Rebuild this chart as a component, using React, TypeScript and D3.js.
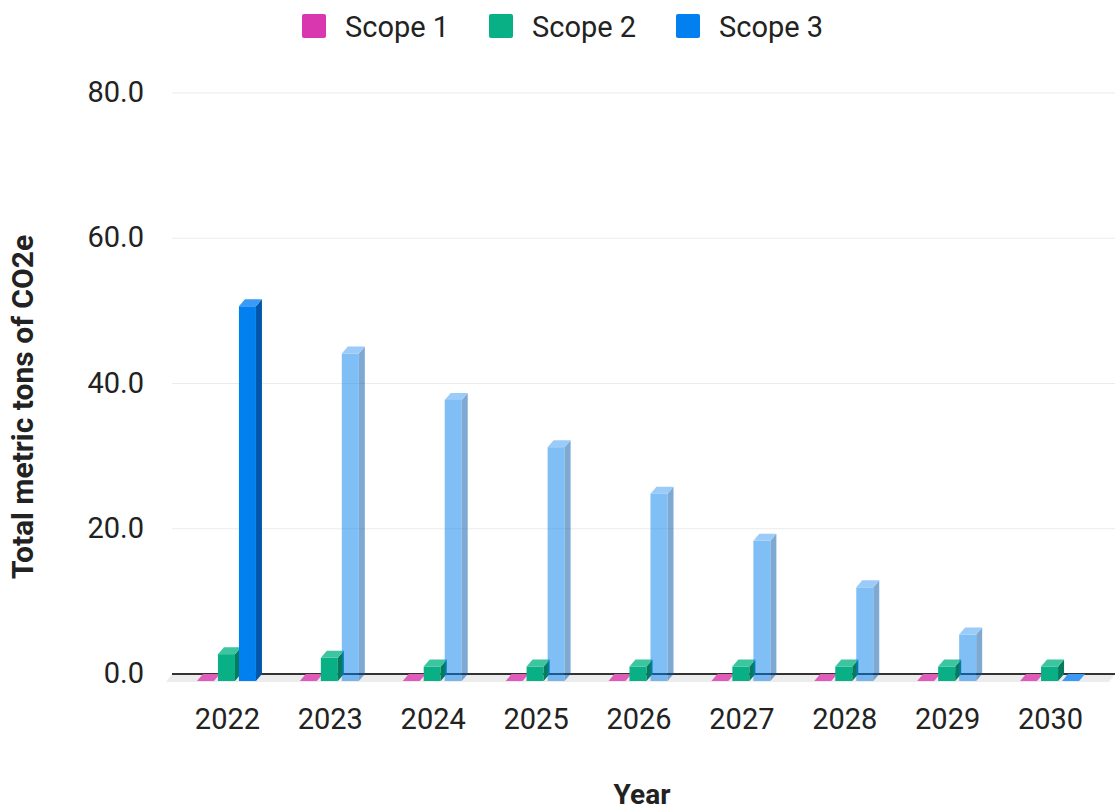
import * as d3 from 'd3'

const years = ['2022', '2023', '2024', '2025', '2026', '2027', '2028', '2029', '2030']
const series = ['Scope 1', 'Scope 2', 'Scope 3']
const scope1 = [0, 0, 0, 0, 0, 0, 0, 0, 0]
const scope2 = [3.7, 3.2, 2.0, 2.0, 2.0, 2.0, 2.0, 2.0, 2.0]
const scope3 = [51.6, 45.1, 38.7, 32.2, 25.8, 19.3, 12.9, 6.4, 0]
// later years are projections, drawn see-through
const projected = [false, true, true, true, true, true, true, true, false]
const yTicks = [0, 20, 40, 60, 80]

const colors = {
  'Scope 1': { front: '#d837b0', top: '#e05cba', side: '#9a2780' },
  'Scope 2': { front: '#09b085', top: '#3cc59f', side: '#067a5c' },
  'Scope 3': { front: '#0380ef', top: '#3a9af5', side: '#0056a8' },
}

const W = 1115
const H = 810
const DX = 6
const DY = 7
const FONT = 'Roboto, "Open Sans", sans-serif'

export default function App() {
  const values: Record<string, number[]> = { 'Scope 1': scope1, 'Scope 2': scope2, 'Scope 3': scope3 }

  const y = d3.scaleLinear().domain([0, 80]).range([674, 93])
  const x = d3.scaleBand().domain(years).range([175, 1101])
  const xInner = d3.scaleBand().domain(series).range([-29.5, 29.5]).paddingInner(0.19)

  const gridLeft = 172
  const gridRight = 1115

  const bar = (yr: string, i: number, s: string) => {
    const v = values[s][i]
    const c = colors[s as keyof typeof colors]
    const x0 = x(yr)! + x.bandwidth() / 2 + xInner(s)!
    const x1 = x0 + xInner.bandwidth()
    const yTop = y(v) + DY
    const yBot = y(0) + DY
    const op = s === 'Scope 3' && projected[i] ? 0.5 : 1
    const topFace = `${x0},${yTop} ${x0 + DX},${yTop - DY} ${x1 + DX},${yTop - DY} ${x1},${yTop}`
    const sideFace = `${x1},${yTop} ${x1 + DX},${yTop - DY} ${x1 + DX},${yBot - DY} ${x1},${yBot}`
    return (
      <g key={s + yr} opacity={op}>
        {v > 0 && <rect x={x0} y={yTop} width={x1 - x0} height={yBot - yTop} fill={c.front} />}
        {v > 0 && <polygon points={sideFace} fill={c.side} />}
        <polygon points={topFace} fill={c.top} />
      </g>
    )
  }

  const legendX = [302, 489, 676]

  return (
    <div style={{ position: 'absolute', left: 0, top: 0 }}>
      <svg width={W} height={H} style={{ display: 'block', background: '#fff' }} fontFamily={FONT}>
        {/* legend */}
        {series.map((s, i) => (
          <g key={s} transform={`translate(${legendX[i]},14)`}>
            <rect width={24} height={24} rx={2} fill={colors[s as keyof typeof colors].front} />
            <text x={43} y={23} fontSize={29} fill="#222">
              {s}
            </text>
          </g>
        ))}

        {/* grid */}
        {yTicks.map((t) => (
          <g key={t}>
            {t > 0 && <line x1={gridLeft} x2={gridRight} y1={y(t)} y2={y(t)} stroke="#ebebeb" strokeWidth={1} />}
            <text x={144} y={y(t) + 9} textAnchor="end" fontSize={29} fill="#222">
              {t.toFixed(1)}
            </text>
          </g>
        ))}

        {/* floor */}
        <polygon
          points={`${gridLeft},${y(0)} ${gridRight},${y(0)} ${gridRight - DX},${y(0) + DY + 1} ${gridLeft - DX},${y(0) + DY + 1}`}
          fill="#ececec"
        />
        <line x1={gridLeft} x2={gridRight} y1={y(0)} y2={y(0)} stroke="#333" strokeWidth={2} />

        {/* bars */}
        {years.map((yr, i) => (
          <g key={yr}>{series.map((s) => bar(yr, i, s))}</g>
        ))}

        {/* x labels */}
        {years.map((yr) => (
          <text key={yr} x={x(yr)! + x.bandwidth() / 2 + 1} y={729} textAnchor="middle" fontSize={29} fill="#222">
            {yr}
          </text>
        ))}

        <text x={642} y={804} textAnchor="middle" fontSize={28} fontWeight="bold" fill="#222">
          Year
        </text>
        <text transform={`translate(33,407) rotate(-90)`} textAnchor="middle" fontSize={30} fontWeight="bold" fill="#222">
          Total metric tons of CO2e
        </text>
      </svg>
    </div>
  )
}
